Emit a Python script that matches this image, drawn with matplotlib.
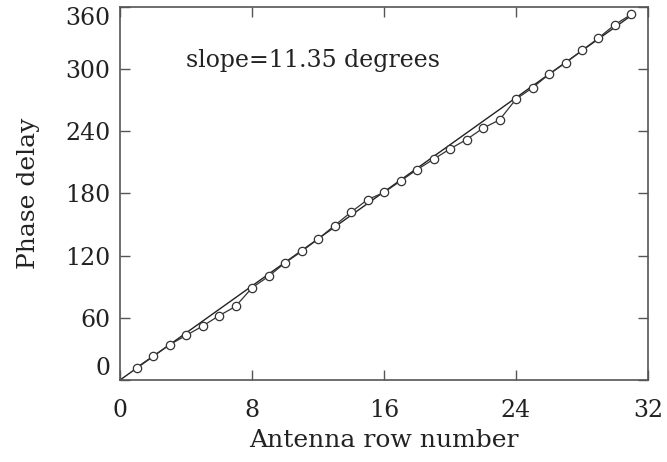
import matplotlib
matplotlib.use('Agg')
import matplotlib.pyplot as plt
import numpy as np

# Measured phase delay per antenna row
rows = [1, 2, 3, 4, 5, 6, 7, 8, 9, 10, 11, 12, 13, 14, 15, 16,
        17, 18, 19, 20, 21, 22, 23, 24, 25, 26, 27, 28, 29, 30, 31]
phase = [12, 23, 34, 43, 52, 62, 71, 89, 100, 113, 124, 136, 149, 162, 174, 181,
         192, 203, 213, 223, 232, 243, 251, 271, 282, 295, 306, 318, 330, 343, 353]

slope = 11.35
fit_x = [0, 31]

xticks = [0, 8, 16, 24, 32]
yticks = [0, 60, 120, 180, 240, 300, 360]

plt.rcParams['font.family'] = 'DejaVu Serif'

fig = plt.figure(figsize=(6.67, 4.62), dpi=100)
ax = fig.add_axes([0.18, 0.1775, 0.7915, 0.8075])

# fit line
fx = np.array(fit_x)
ax.plot(fx, slope * fx, color='#222222', linewidth=1.0)
# measured data
ax.plot(rows, phase, color='#333333', linewidth=0.9, marker='o', markersize=6,
        markerfacecolor='white', markeredgecolor='#333333', markeredgewidth=0.9)

ax.text(4.0, 308, 'slope=11.35 degrees', fontsize=17, ha='left', va='center',
        color='#222222')

ax.set_xlim(0, 32)
ax.set_ylim(0, 360)
ax.set_xticks(xticks)
ax.set_yticks(yticks)
ax.tick_params(direction='in', length=7, width=1, top=True, right=True,
               labelsize=17, color='#555555', labelcolor='#222222')
ax.tick_params(axis='x', pad=14)
ax.tick_params(axis='y', pad=7)
ylabels = ax.get_yticklabels()
ylabels[0].set_va('bottom')
ylabels[-1].set_va('top')
for s in ax.spines.values():
    s.set_color('#555555')
    s.set_linewidth(1.2)

ax.set_xlabel('Antenna row number', fontsize=18, labelpad=5, color='#222222')
ax.set_ylabel('Phase delay', fontsize=18, labelpad=18, color='#222222')

fig.savefig('out.png', dpi=100)
